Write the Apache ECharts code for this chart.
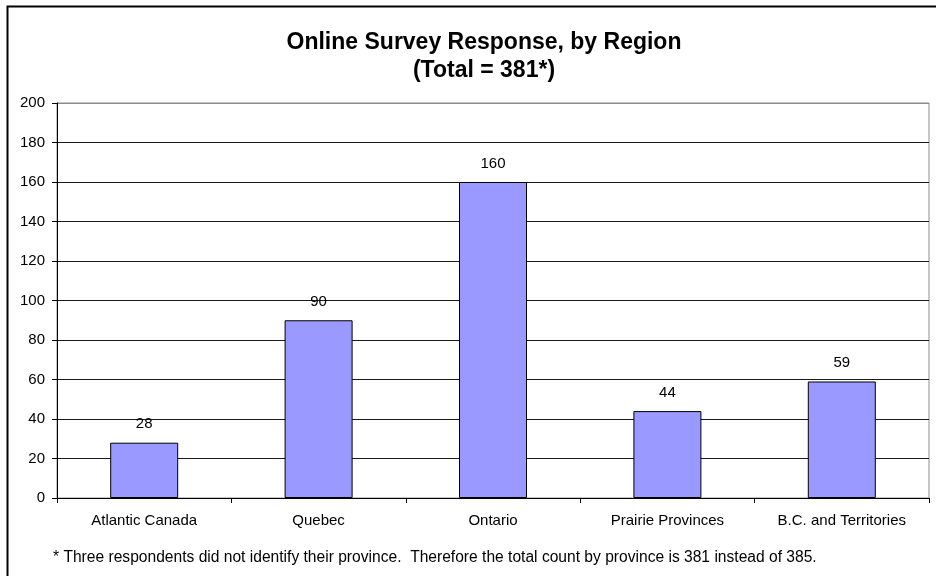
<!DOCTYPE html>
<html>
<head>
<meta charset="utf-8">
<script src="https://cdn.jsdelivr.net/npm/echarts@6/dist/echarts.min.js"></script>
<style>
  html, body { margin: 0; padding: 0; background: #fff; }
  #chart { width: 936px; height: 576px; }
</style>
</head>
<body>
<div id="chart"></div>
<script>
// data
var regions = ['Atlantic Canada', 'Quebec', 'Ontario', 'Prairie Provinces', 'B.C. and Territories'];
var responses = [28, 90, 160, 44, 59];
var yTicks = [0, 20, 40, 60, 80, 100, 120, 140, 160, 180, 200];

var font = 'Arial, "Liberation Sans", sans-serif';

// grid lines black, top one is the grey plot border
var splitColors = yTicks.map(function (v, i) {
  return i === yTicks.length - 1 ? '#8c8c8c' : '#1a1a1a';
});

var chart = echarts.init(document.getElementById('chart'));
chart.setOption({
  backgroundColor: '#fff',
  animation: false,
  title: {
    text: 'Online Survey Response, by Region\n(Total = 381*)',
    left: 479,
    textAlign: 'center',
    top: 24,
    textStyle: {
      fontFamily: font,
      fontSize: 23,
      fontWeight: 'bold',
      color: '#000',
      lineHeight: 28
    }
  },
  grid: {
    left: 57,
    right: 7,
    top: 103,
    bottom: 78,
    show: true,
    borderColor: '#8c8c8c',
    borderWidth: 1
  },
  xAxis: {
    type: 'category',
    data: regions,
    axisLine: { lineStyle: { color: '#000', width: 1 } },
    axisTick: { show: true, length: 5, lineStyle: { color: '#000' } },
    axisLabel: { fontFamily: font, fontSize: 15, color: '#000', margin: 15 }
  },
  yAxis: {
    type: 'value',
    min: 0,
    max: 200,
    interval: 20,
    axisLine: { show: true, lineStyle: { color: '#000', width: 1 } },
    axisTick: { show: true, length: 5, lineStyle: { color: '#000' } },
    axisLabel: { fontFamily: font, fontSize: 15, color: '#000', margin: 12 },
    splitLine: { show: true, lineStyle: { color: splitColors, width: 1 } }
  },
  series: [{
    type: 'bar',
    data: responses,
    barWidth: 68,
    itemStyle: { color: '#9999ff', borderColor: '#000', borderWidth: 1 },
    label: {
      show: true,
      position: 'top',
      distance: 11,
      fontFamily: font,
      fontSize: 15,
      color: '#000'
    }
  }],
  graphic: [
    {
      type: 'rect',
      shape: { x: 7.5, y: 6.5, width: 940, height: 600 },
      style: { fill: null, stroke: '#000', lineWidth: 2 },
      silent: true
    },
    {
      type: 'text',
      left: 53,
      top: 550,
      style: {
        text: '* Three respondents did not identify their province.  Therefore the total count by province is 381 instead of 385.',
        font: '15.6px ' + font,
        fill: '#000'
      }
    }
  ]
});
</script>
</body>
</html>
